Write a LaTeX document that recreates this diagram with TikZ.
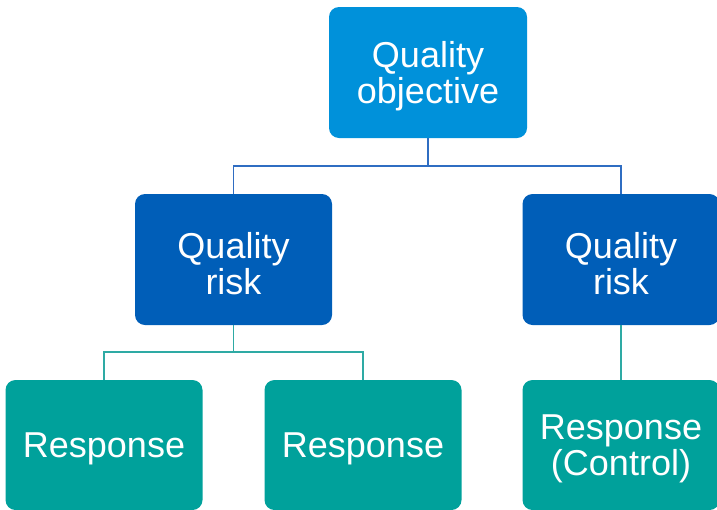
\documentclass[tikz,border=0pt]{standalone}
\usepackage{fontspec}
\setmainfont{Liberation Sans}
\definecolor{objblue}{HTML}{0091DA}
\definecolor{riskblue}{HTML}{005EB8}
\definecolor{respteal}{HTML}{00A19B}
\definecolor{lineblue}{HTML}{2F6DC2}
\definecolor{lineteal}{HTML}{2EAAA4}
\begin{document}
\begin{tikzpicture}[x=1pt,y=-1pt,
  box/.style={rounded corners=10pt, minimum width=197pt, minimum height=130pt,
    inner sep=0pt},
  txt/.style={align=center, text=white, inner sep=0pt, yshift=-4pt,
    font=\fontsize{36}{36}\selectfont},
  objbox/.style={box, fill=objblue},
  riskbox/.style={box, fill=riskblue},
  respbox/.style={box, fill=respteal},
  bline/.style={draw=lineblue, line width=1.8pt},
  tline/.style={draw=lineteal, line width=1.8pt}]
\useasboundingbox (0,0) rectangle (717,509);
\clip (0,0) rectangle (717,509);
\node[objbox, minimum width=198pt, minimum height=131pt,
  label={[txt]center:{Quality\\objective}}] (obj) at (428,72.5) {};
\node[riskbox, minimum height=131pt,
  label={[txt]center:{Quality\\risk}}] (riskL) at (233.5,259.5) {};
\node[riskbox, minimum height=131pt,
  label={[txt]center:{Quality\\risk}}] (riskR) at (621,259.5) {};
\node[respbox, label={[txt]center:{Response}}] (respL) at (104,445) {};
\node[respbox, label={[txt]center:{Response}}] (respM) at (363,445) {};
\node[respbox, label={[txt]center:{Response\\(Control)}}] (respR) at (621,445) {};
\coordinate (j1) at (428,166);
\coordinate (j2) at (233.5,352);
\draw[bline] (obj.south) -- (j1) -| (riskL.north);
\draw[bline] (j1) -| (riskR.north);
\draw[tline] (riskL.south) -- (j2) -| (respL.north);
\draw[tline] (j2) -| (respM.north);
\draw[tline] (riskR.south) -- (respR.north);
\end{tikzpicture}
\end{document}
